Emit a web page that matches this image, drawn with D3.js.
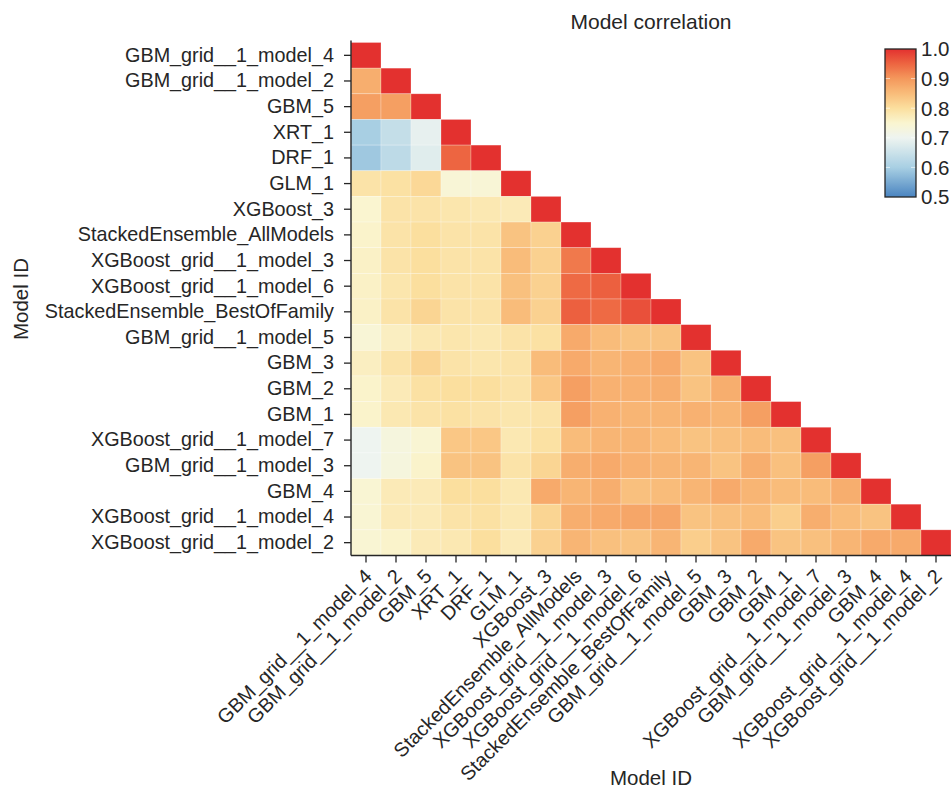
<!DOCTYPE html>
<html>
<head>
<meta charset="utf-8">
<script src="https://cdn.jsdelivr.net/npm/d3@7"></script>
<style>
  body { margin: 0; background: #fff; }
  text { font-family: "Liberation Sans", Arial, sans-serif; fill: #262626; }
</style>
</head>
<body>
<div id="container"></div>
<script>
/* model ids, top to bottom (and left to right) */
var models = [
  "GBM_grid__1_model_4", "GBM_grid__1_model_2", "GBM_5", "XRT_1", "DRF_1",
  "GLM_1", "XGBoost_3", "StackedEnsemble_AllModels", "XGBoost_grid__1_model_3",
  "XGBoost_grid__1_model_6", "StackedEnsemble_BestOfFamily", "GBM_grid__1_model_5",
  "GBM_3", "GBM_2", "GBM_1", "XGBoost_grid__1_model_7", "GBM_grid__1_model_3",
  "GBM_4", "XGBoost_grid__1_model_4", "XGBoost_grid__1_model_2"
];

/* lower triangle of the correlation matrix, row i has columns 0..i */
var corr = [
  [1],
  [0.87, 1],
  [0.89, 0.89, 1],
  [0.60, 0.64, 0.69, 1],
  [0.59, 0.63, 0.68, 0.95, 1],
  [0.79, 0.795, 0.81, 0.74, 0.74, 1],
  [0.75, 0.79, 0.79, 0.785, 0.78, 0.775, 1],
  [0.755, 0.79, 0.80, 0.79, 0.79, 0.84, 0.82, 1],
  [0.76, 0.79, 0.80, 0.79, 0.79, 0.85, 0.82, 0.93, 1],
  [0.76, 0.785, 0.80, 0.79, 0.79, 0.845, 0.82, 0.945, 0.955, 1],
  [0.76, 0.79, 0.815, 0.79, 0.79, 0.85, 0.82, 0.955, 0.945, 0.97, 1],
  [0.74, 0.765, 0.78, 0.785, 0.78, 0.79, 0.795, 0.875, 0.85, 0.84, 0.84, 1],
  [0.765, 0.79, 0.815, 0.79, 0.785, 0.79, 0.85, 0.875, 0.86, 0.865, 0.875, 0.84, 1],
  [0.755, 0.775, 0.795, 0.80, 0.80, 0.79, 0.835, 0.89, 0.865, 0.865, 0.87, 0.84, 0.87, 1],
  [0.755, 0.78, 0.79, 0.795, 0.79, 0.785, 0.79, 0.89, 0.865, 0.86, 0.86, 0.865, 0.86, 0.89, 1],
  [0.70, 0.73, 0.745, 0.835, 0.835, 0.78, 0.795, 0.85, 0.86, 0.86, 0.85, 0.84, 0.845, 0.85, 0.845, 1],
  [0.70, 0.73, 0.755, 0.84, 0.84, 0.79, 0.815, 0.87, 0.875, 0.865, 0.86, 0.86, 0.84, 0.87, 0.845, 0.89, 1],
  [0.745, 0.775, 0.775, 0.80, 0.80, 0.78, 0.875, 0.86, 0.87, 0.845, 0.85, 0.86, 0.875, 0.86, 0.85, 0.85, 0.87, 1],
  [0.745, 0.775, 0.775, 0.79, 0.795, 0.78, 0.815, 0.87, 0.875, 0.88, 0.88, 0.84, 0.845, 0.85, 0.825, 0.87, 0.85, 0.84, 1],
  [0.745, 0.755, 0.775, 0.78, 0.80, 0.775, 0.82, 0.86, 0.845, 0.84, 0.86, 0.825, 0.84, 0.875, 0.84, 0.845, 0.86, 0.875, 0.875, 1]
];

var legendTicks = [0.5, 0.6, 0.7, 0.8, 0.9, 1.0];

/* colour ramp (diverging, blue -> pale -> red) */
var colorStops = [0.5, 0.6, 0.7, 0.75, 0.8, 0.85, 0.9, 0.95, 1.0];
var colorValues = ["#4a84c0", "#a8cfe3", "#eef4f0", "#faf5d0", "#fbdf9e",
                   "#f9bc7a", "#f4985c", "#ed6541", "#e3312f"];

var W = 952, H = 791;
var plot = { left: 351, top: 42.5, right: 951, bottom: 555.5 };

var svg = d3.select("#container").append("svg")
  .attr("width", W).attr("height", H);

var x = d3.scaleBand().domain(models).range([plot.left, plot.right]);
var y = d3.scaleBand().domain(models).range([plot.top, plot.bottom]);
var color = d3.scaleLinear().domain(colorStops).range(colorValues)
  .interpolate(d3.interpolateRgb).clamp(true);

/* flatten the triangle into cells */
var cells = [];
corr.forEach(function(row, i) {
  row.forEach(function(v, j) {
    cells.push({ row: models[i], col: models[j], value: v });
  });
});

svg.append("g").selectAll("rect")
  .data(cells)
  .enter().append("rect")
    .attr("x", function(d) { return x(d.col); })
    .attr("y", function(d) { return y(d.row); })
    .attr("width", x.bandwidth())
    .attr("height", y.bandwidth())
    .attr("fill", function(d) { return color(d.value); })
    .attr("stroke", "rgba(255,255,255,0.35)")
    .attr("stroke-width", 0.7);

/* axes */
var fs = "19.8px";
var yAxis = svg.append("g")
  .attr("transform", "translate(" + plot.left + ",0)")
  .call(d3.axisLeft(y).tickSize(7).tickPadding(10));
yAxis.select(".domain").attr("stroke", "#262626").attr("stroke-width", 1.4)
  .attr("d", "M0," + (plot.top - 2) + "V" + plot.bottom);
yAxis.selectAll(".tick line").attr("stroke", "#262626").attr("stroke-width", 1.3);
yAxis.selectAll(".tick text").style("font-size", fs).attr("fill", "#262626");

var xAxis = svg.append("g")
  .attr("transform", "translate(0," + plot.bottom + ")")
  .call(d3.axisBottom(x).tickSize(7).tickPadding(4));
xAxis.select(".domain").attr("stroke", "#262626").attr("stroke-width", 1.4)
  .attr("d", "M" + plot.left + ",0H" + plot.right);
xAxis.selectAll(".tick line").attr("stroke", "#262626").attr("stroke-width", 1.3);
xAxis.selectAll(".tick text")
  .style("font-size", fs).attr("fill", "#262626")
  .attr("text-anchor", "end")
  .attr("dy", null)
  .attr("y", null)
  .attr("transform", "translate(7,22) rotate(-45)");

/* titles */
svg.append("text")
  .attr("x", (plot.left + plot.right) / 2).attr("y", 29)
  .attr("text-anchor", "middle").style("font-size", "21px")
  .text("Model correlation");

svg.append("text")
  .attr("x", (plot.left + plot.right) / 2).attr("y", 785)
  .attr("text-anchor", "middle").style("font-size", "20.5px")
  .text("Model ID");

svg.append("text")
  .attr("transform", "translate(28," + ((plot.top + plot.bottom) / 2) + ") rotate(-90)")
  .attr("text-anchor", "middle").style("font-size", "20.5px")
  .text("Model ID");

/* colour bar */
var cb = { x: 885, y: 49, w: 31, h: 148 };
var grad = svg.append("defs").append("linearGradient")
  .attr("id", "cbar").attr("x1", 0).attr("y1", 1).attr("x2", 0).attr("y2", 0);
d3.range(0, 1.0001, 0.02).forEach(function(t) {
  grad.append("stop").attr("offset", t).attr("stop-color", color(0.5 + t * 0.5));
});
var cbScale = d3.scaleLinear().domain([0.5, 1.0]).range([cb.y + cb.h, cb.y]);

svg.append("rect")
  .attr("x", cb.x).attr("y", cb.y).attr("width", cb.w).attr("height", cb.h)
  .attr("fill", "url(#cbar)");

svg.append("g").selectAll("line.in")
  .data(legendTicks.slice(1, -1))
  .enter().append("g")
  .each(function(d) {
    var g = d3.select(this);
    g.append("line").attr("x1", cb.x).attr("x2", cb.x + 5)
      .attr("y1", cbScale(d)).attr("y2", cbScale(d))
      .attr("stroke", "rgba(255,255,255,0.6)").attr("stroke-width", 1);
    g.append("line").attr("x1", cb.x + cb.w - 5).attr("x2", cb.x + cb.w)
      .attr("y1", cbScale(d)).attr("y2", cbScale(d))
      .attr("stroke", "rgba(255,255,255,0.6)").attr("stroke-width", 1);
  });

svg.append("rect")
  .attr("x", cb.x).attr("y", cb.y).attr("width", cb.w).attr("height", cb.h)
  .attr("fill", "none").attr("stroke", "#262626").attr("stroke-width", 1.3);

svg.append("g").selectAll("text")
  .data(legendTicks)
  .enter().append("text")
    .attr("x", cb.x + cb.w + 5)
    .attr("y", function(d) { return cbScale(d); })
    .attr("dy", "0.36em")
    .style("font-size", "20.5px")
    .text(function(d) { return d.toFixed(1); });
</script>
</body>
</html>
